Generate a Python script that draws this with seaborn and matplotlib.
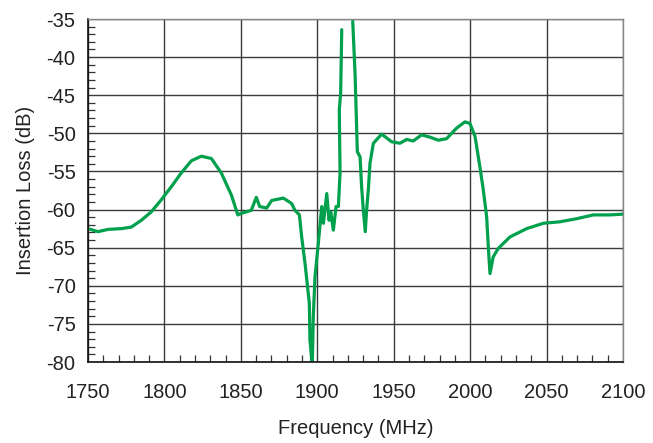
# Insertion loss vs frequency - filter response

import numpy as np
import pandas as pd
import matplotlib
matplotlib.use("Agg")
import matplotlib.pyplot as plt
from matplotlib.ticker import MultipleLocator
import seaborn as sns

# ----------------------------------------------------------
# Data
# ----------------------------------------------------------

freq_left = [1750, 1756.5, 1763.1, 1771.8, 1778.3, 1784.9, 1791.4, 1798, 1804.5,
             1811, 1817.6, 1824.1, 1830.7, 1837.2, 1843.8, 1848, 1850.3, 1856.8,
             1860.1, 1862.3, 1866.9, 1870.2, 1877.8, 1883.2, 1885.4, 1888.3,
             1889.8, 1892, 1894.8, 1895.2, 1896.7, 1897.4, 1898.5, 1900.7,
             1902.9, 1904, 1906.2, 1907.7, 1908.8, 1910.5, 1912.3, 1913.8,
             1914.9, 1914.4, 1915.3, 1916]
loss_left = [-62.5, -62.9, -62.6, -62.5, -62.3, -61.4, -60.3, -58.7, -57.0,
             -55.2, -53.6, -53.0, -53.3, -55.2, -58.1, -60.7, -60.5, -60.1,
             -58.4, -59.6, -59.8, -58.8, -58.5, -59.2, -60.1, -60.7,
             -63.6, -67.1, -72.3, -77.1, -80.5, -74.0, -68.8, -64.4,
             -59.6, -61.8, -57.9, -61.4, -60.3, -62.7, -59.6, -59.6,
             -55.2, -46.9, -44.7, -36.4]

freq_right = [1923.2, 1924.7, 1925.8, 1926.2, 1928, 1929, 1930.1, 1931.4, 1932.3,
              1933.4, 1934.5, 1936.7, 1942.1, 1948.6, 1954.1, 1958.4, 1962.8,
              1968.2, 1973.7, 1979.2, 1984.6, 1991.2, 1996.6, 1999.9, 2003.2,
              2006.4, 2008.6, 2010.8, 2011.9, 2013, 2015.1, 2018.4, 2026, 2037,
              2047.9, 2058.8, 2069.7, 2080.6, 2091.5, 2100]
loss_right = [-35.3, -42.1, -49.6, -52.4, -53.1, -57.0, -60.0, -62.9, -60.0,
              -57.4, -53.9, -51.3, -50.1, -51.1, -51.3, -50.8, -51.0,
              -50.2, -50.5, -50.9, -50.7, -49.3, -48.5, -48.7, -50.4,
              -54.4, -57.4, -60.9, -64.9, -68.4, -66.2, -65.1, -63.6, -62.5,
              -61.8, -61.6, -61.2, -60.7, -60.7, -60.6]

df = pd.DataFrame({
    "freq": freq_left + freq_right,
    "loss": loss_left + loss_right,
    "segment": ["a"] * len(freq_left) + ["b"] * len(freq_right),
})

# ----------------------------------------------------------
# Plot
# ----------------------------------------------------------

sns.set_style("white")
plt.rcParams["font.family"] = ["Liberation Sans", "DejaVu Sans"]
plt.rcParams["axes.unicode_minus"] = False

fig = plt.figure(figsize=(6.53, 4.43), dpi=100)
ax = fig.add_axes([0.1348, 0.1828, 0.8192, 0.7743])

sns.lineplot(
    data=df, x="freq", y="loss", units="segment", estimator=None,
    color="#00A04C", linewidth=2.3, ax=ax, sort=False
)

ax.set_xlim(1750, 2100)
ax.set_ylim(-80, -35)
ax.xaxis.set_major_locator(MultipleLocator(50))
ax.yaxis.set_major_locator(MultipleLocator(5))
ax.xaxis.set_minor_locator(MultipleLocator(10))
ax.yaxis.set_minor_locator(MultipleLocator(1))

ax.grid(which="major", color="#3a3a3a", linewidth=1.0)
ax.set_axisbelow(True)

ax.tick_params(which="both", direction="in", labelsize=14.5, colors="#222222",
               bottom=True, left=True, top=False, right=False)
ax.tick_params(which="major", length=0)
ax.tick_params(axis="x", which="major", pad=15)
ax.tick_params(axis="y", which="major", pad=9)
ax.tick_params(which="minor", length=5, width=0.9, color="#333333")

for side in ["left", "bottom"]:
    ax.spines[side].set_color("#111111")
    ax.spines[side].set_linewidth(1.2)
for side in ["top", "right"]:
    ax.spines[side].set_color("#888888")
    ax.spines[side].set_linewidth(1.0)

ax.set_xlabel("Frequency (MHz)", fontsize=14.5, color="#222222", labelpad=12)
ax.set_ylabel("Insertion Loss (dB)", fontsize=14.5, color="#222222", labelpad=8)

fig.savefig("out.png", dpi=100)
